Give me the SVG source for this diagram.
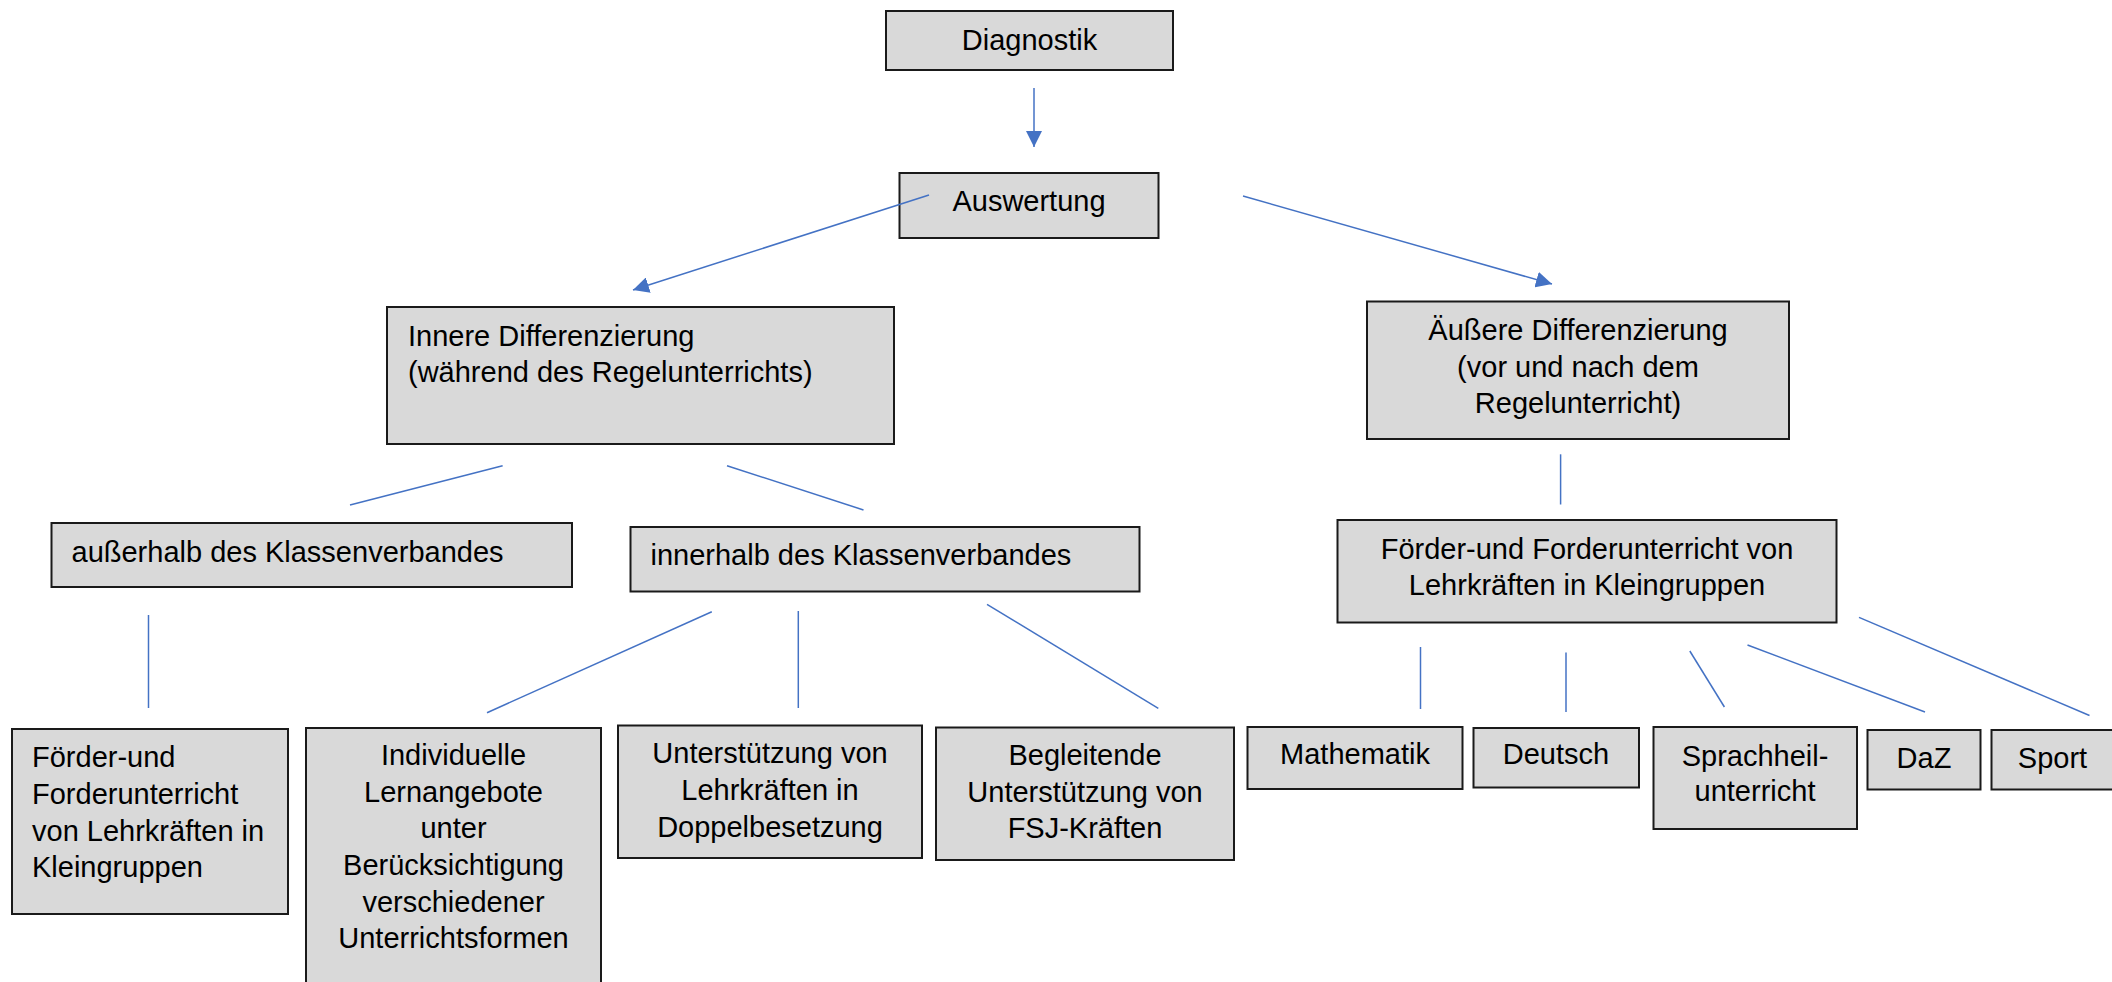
<svg xmlns="http://www.w3.org/2000/svg" width="2112" height="982" viewBox="0 0 2112 982">
<style>
.box{fill:#d9d9d9;stroke:#1a1a1a;stroke-width:2}
.t{font-family:"Liberation Sans",Arial,sans-serif;font-size:29px;fill:#000}
.c{text-anchor:middle}
.ln{stroke:#4472c4;stroke-width:1.5;fill:none}
</style>
<defs>
<marker id="ah" markerUnits="userSpaceOnUse" markerWidth="17" markerHeight="16" refX="16" refY="8" orient="auto">
<path d="M0,0 L16,8 L0,16 z" fill="#4472c4"/>
</marker>
</defs>
<rect width="2112" height="982" fill="#fff"/>
<g id="diagnostik">
<rect class="box" x="886" y="11" width="287" height="59"/>
<text class="t c" x="1029.5" y="49.5">Diagnostik</text>
</g>
<g id="auswertung">
<rect class="box" x="899.5" y="173" width="259" height="65"/>
<text class="t c" x="1029" y="210.5">Auswertung</text>
</g>
<g id="innere">
<rect class="box" x="387" y="307" width="507" height="137"/>
<text class="t" x="408" y="345.5">Innere Differenzierung</text>
<text class="t" x="408" y="382">(während des Regelunterrichts)</text>
</g>
<g id="aeussere">
<rect class="box" x="1367" y="301.5" width="422" height="137.5"/>
<text class="t c" x="1578" y="340">Äußere Differenzierung</text>
<text class="t c" x="1578" y="376.5">(vor und nach dem</text>
<text class="t c" x="1578" y="412.5">Regelunterricht)</text>
</g>
<g id="ausserhalb">
<rect class="box" x="51.5" y="523" width="520.5" height="64"/>
<text class="t" x="71.5" y="561.5">außerhalb des Klassenverbandes</text>
</g>
<g id="innerhalb">
<rect class="box" x="630.5" y="527" width="509" height="64.5"/>
<text class="t" x="650.5" y="565">innerhalb des Klassenverbandes</text>
</g>
<g id="foerder-rechts">
<rect class="box" x="1337.5" y="520" width="499" height="102.5"/>
<text class="t c" x="1587" y="559">Förder-und Forderunterricht von</text>
<text class="t c" x="1587" y="595">Lehrkräften in Kleingruppen</text>
</g>
<g id="foerder-links">
<rect class="box" x="12" y="729" width="276" height="185"/>
<text class="t" x="32" y="767">Förder-und</text>
<text class="t" x="32" y="804">Forderunterricht</text>
<text class="t" x="32" y="840.5">von Lehrkräften in</text>
<text class="t" x="32" y="876.5">Kleingruppen</text>
</g>
<g id="individuelle">
<rect class="box" x="306" y="728" width="295" height="270"/>
<text class="t c" x="453.5" y="765">Individuelle</text>
<text class="t c" x="453.5" y="801.7">Lernangebote</text>
<text class="t c" x="453.5" y="838.3">unter</text>
<text class="t c" x="453.5" y="875">Berücksichtigung</text>
<text class="t c" x="453.5" y="911.7">verschiedener</text>
<text class="t c" x="453.5" y="948.3">Unterrichtsformen</text>
</g>
<g id="unterstuetzung">
<rect class="box" x="618" y="725.5" width="304" height="132.5"/>
<text class="t c" x="770" y="763.3">Unterstützung von</text>
<text class="t c" x="770" y="800">Lehrkräften in</text>
<text class="t c" x="770" y="836.7">Doppelbesetzung</text>
</g>
<g id="begleitende">
<rect class="box" x="936" y="727.5" width="298" height="132.5"/>
<text class="t c" x="1085" y="765">Begleitende</text>
<text class="t c" x="1085" y="801.7">Unterstützung von</text>
<text class="t c" x="1085" y="838.3">FSJ-Kräften</text>
</g>
<g id="mathematik">
<rect class="box" x="1247.5" y="727" width="215" height="62"/>
<text class="t c" x="1355" y="764">Mathematik</text>
</g>
<g id="deutsch">
<rect class="box" x="1473.5" y="728" width="165.5" height="59.5"/>
<text class="t c" x="1556" y="764">Deutsch</text>
</g>
<g id="sprachheil">
<rect class="box" x="1653.5" y="727" width="203.5" height="102"/>
<text class="t c" x="1755" y="766">Sprachheil-</text>
<text class="t c" x="1755" y="801">unterricht</text>
</g>
<g id="daz">
<rect class="box" x="1867.5" y="730" width="113" height="59.5"/>
<text class="t c" x="1924" y="767.5">DaZ</text>
</g>
<g id="sport">
<rect class="box" x="1991.5" y="730" width="140" height="59.5"/>
<text class="t c" x="2052.5" y="767.5">Sport</text>
</g>
<g id="connectors">
<line class="ln" x1="1034" y1="88" x2="1034" y2="147" marker-end="url(#ah)"/>
<line class="ln" x1="929" y1="195" x2="633" y2="290" marker-end="url(#ah)"/>
<line class="ln" x1="1243" y1="196" x2="1552" y2="284" marker-end="url(#ah)"/>
<line class="ln" x1="502.6" y1="465.7" x2="350" y2="505"/>
<line class="ln" x1="727" y1="465.7" x2="863.5" y2="510"/>
<line class="ln" x1="148.5" y1="615" x2="148.5" y2="708"/>
<line class="ln" x1="711.8" y1="611.7" x2="487" y2="712.7"/>
<line class="ln" x1="798.3" y1="611" x2="798.3" y2="708"/>
<line class="ln" x1="987" y1="604.3" x2="1158.3" y2="708.3"/>
<line class="ln" x1="1560.6" y1="454.3" x2="1560.6" y2="504.5"/>
<line class="ln" x1="1420.5" y1="647" x2="1420.5" y2="709"/>
<line class="ln" x1="1566" y1="652.5" x2="1566" y2="712"/>
<line class="ln" x1="1689.8" y1="651" x2="1724.4" y2="707"/>
<line class="ln" x1="1747.5" y1="645" x2="1925" y2="712"/>
<line class="ln" x1="1859" y1="617.4" x2="2089.5" y2="715.5"/>
</g>
</svg>
